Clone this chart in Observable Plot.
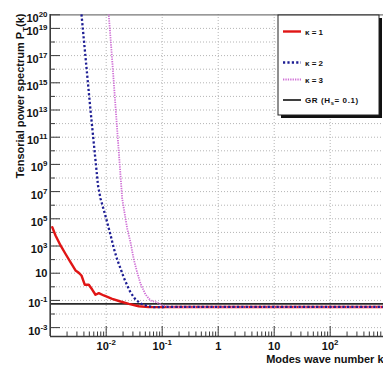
<!DOCTYPE html>
<html><head><meta charset="utf-8">
<script src="https://cdn.jsdelivr.net/npm/d3@7"></script>
<script src="https://cdn.jsdelivr.net/npm/@observablehq/plot@0.6"></script>
<style>
html,body{margin:0;padding:0;background:#fff;overflow:hidden;}
#chart{width:383px;height:369px;position:relative;overflow:hidden;}
</style></head><body><div id="chart"></div>
<script>
// ---- series (k, P_T(k)) ----
const seriesNames = ["κ = 1", "κ = 2", "κ = 3"];
const seriesColors = ["#e01515", "#1e1e94", "#d070d6"];
const grLabel = "GR (H_{s}= 0.1)";
const grValue = 0.056;

const k1 = [1.09e-3, 1.245e-3, 1.53e-3, 1.87e-3, 2.30e-3, 2.83e-3, 3.24e-3, 3.62e-3, 4.15e-3, 4.89e-3, 5.62e-3, 6.44e-3, 7.38e-3, 9.06e-3, 0.0128, 0.018, 0.0254, 0.0382, 0.0577, 0.076, 0.2, 1, 10, 100, 1000];
const p1 = [2.4e4, 5.9e3, 1.1e3, 270, 65, 16, 10.7, 6.8, 1.4, 1.4, 0.63, 0.26, 0.34, 0.23, 0.132, 0.083, 0.056, 0.037, 0.032, 0.032, 0.033, 0.033, 0.033, 0.033, 0.033];

const k2 = [3.44e-3, 3.62e-3, 5.25e-3, 7.14e-3, 7.91e-3, 9.44e-3, 0.01042, 0.01202, 0.01368, 0.0157, 0.018, 0.0206, 0.0237, 0.0272, 0.0333, 0.0409, 0.054, 0.07, 0.2, 1, 10, 100, 1000];
const p2 = [1e21, 1.05e20, 9.1e12, 2.8e7, 3.1e6, 2.45e5, 5.4e4, 5.9e3, 660, 102, 22.4, 4.8, 1.26, 0.38, 0.117, 0.060, 0.039, 0.032, 0.034, 0.034, 0.034, 0.034, 0.034];

const k3 = [0.0107, 0.0111, 0.0128, 0.01466, 0.0168, 0.0193, 0.0215, 0.0237, 0.0272, 0.0311, 0.0358, 0.0409, 0.0504, 0.0618, 0.0815, 0.1, 0.129, 0.3, 1, 10, 100, 1000];
const p3 = [1e21, 1.05e20, 4.4e16, 1.8e13, 7.6e9, 3.1e6, 2.1e5, 1.95e4, 1820, 102, 11.2, 1.74, 0.27, 0.098, 0.071, 0.043, 0.032, 0.032, 0.032, 0.032, 0.032, 0.032];

// ---- axes ----
const xDomain = [1e-3, 1e3];
const yDomain = [2.22e-4, 1e20];
const xTickValues = [1e-2, 1e-1, 1, 10, 100];
const xTickLabels = ["10^{-2}", "10^{-1}", "1", "10", "10^{2}"];
const yTickValues = [1e-3, 1e-1, 10, 1e3, 1e5, 1e7, 1e9, 1e11, 1e13, 1e15, 1e17, 1e19, 1e20];
const yTickLabels = ["10^{-3}", "10^{-1}", "10", "10^{3}", "10^{5}", "10^{7}", "10^{9}", "10^{11}", "10^{13}", "10^{15}", "10^{17}", "10^{19}", "10^{20}"];
const yShortTicks = [1e-2, 1, 1e2, 1e4, 1e6, 1e8, 1e10, 1e12, 1e14, 1e16, 1e18];
const yGrid = [1e-3, 1e-2, 1e-1, 1, 10, 1e2, 1e3, 1e4, 1e5, 1e6, 1e7, 1e8, 1e9, 1e10, 1e11, 1e12, 1e13, 1e14, 1e15, 1e16, 1e17, 1e18, 1e19];
const xGrid = [1e-2, 1e-1, 1, 10, 100];
const xTitle = "Modes wave number k";
const yTitle = "Tensorial power spectrum P_{T}(k)";

const xMinor = [];
for (const dec of [1e-3, 1e-2, 1e-1, 1, 10, 100]) for (let m = 2; m <= 9; m++) xMinor.push(m * dec);

const rows = (ks, ps) => ks.map((k, i) => ({k, p: ps[i]}));
const d1 = rows(k1, p1), d2 = rows(k2, p2), d3s = rows(k3, p3);

const F = "'Liberation Sans', Arial, Helvetica, sans-serif";
const axisColor = "#3a3a3a";

const svg = Plot.plot({
  width: 383, height: 369,
  marginLeft: 50, marginTop: 14, marginBottom: 33, marginRight: 0,
  x: {type: "log", domain: xDomain, range: [49.7, 385.7], axis: null},
  y: {type: "log", domain: yDomain, range: [336, 14.3], axis: null},
  marks: [
    Plot.ruleY(yGrid, {stroke: "#b4b4b4", strokeDasharray: "1,2", strokeWidth: 1}),
    Plot.ruleX(xGrid, {stroke: "#b4b4b4", strokeDasharray: "1,2", strokeWidth: 1}),
    Plot.ruleY([yDomain[1]], {stroke: "#777", strokeWidth: 1.2}),
    Plot.axisY(yTickValues, {anchor: "left", tickSize: 10, dx: 10, fill: "none", label: null, stroke: axisColor}),
    Plot.axisY(yShortTicks, {anchor: "left", tickSize: 5, dx: 5, fill: "none", label: null, stroke: axisColor}),
    Plot.axisX(xTickValues, {anchor: "bottom", tickSize: 10, dy: -10, fill: "none", label: null, stroke: axisColor}),
    Plot.axisX(xMinor, {anchor: "bottom", tickSize: 4.5, dy: -4.5, fill: "none", label: null, stroke: axisColor}),
    Plot.ruleY([grValue], {stroke: "#2a2a2a", strokeWidth: 1.8}),
    Plot.line(d1, {x: "k", y: "p", stroke: seriesColors[0], strokeWidth: 2.4, clip: true}),
    Plot.line(d3s, {x: "k", y: "p", stroke: seriesColors[2], strokeWidth: 1.8, strokeDasharray: "1.3,1.1", strokeLinecap: "butt", strokeLinejoin: "miter", clip: true}),
    Plot.line(d2, {x: "k", y: "p", stroke: seriesColors[1], strokeWidth: 2.3, strokeDasharray: "2.2,2.2", strokeLinecap: "butt", strokeLinejoin: "miter", clip: true}),
    Plot.ruleX([xDomain[0]], {stroke: axisColor, strokeWidth: 1.6}),
    Plot.ruleY([yDomain[0]], {stroke: axisColor, strokeWidth: 1.6}),
    Plot.text(yTickValues, {y: d => d, text: (d, i) => yTickLabels[i], filter: (d, i) => yTickLabels[i].includes("^"),
      frameAnchor: "left", textAnchor: "end", dx: -3, dy: 3.5, fontSize: 11, fontWeight: "bold", fontFamily: F, fill: "#111"}),
    Plot.text(yTickValues, {y: d => d, text: (d, i) => yTickLabels[i], filter: (d, i) => !yTickLabels[i].includes("^"),
      frameAnchor: "left", textAnchor: "end", dx: -3, dy: 0, fontSize: 11, fontWeight: "bold", fontFamily: F, fill: "#111"}),
    Plot.text(xTickValues, {x: d => d, text: (d, i) => xTickLabels[i], frameAnchor: "bottom", textAnchor: "middle", dy: 13,
      fontSize: 11, fontWeight: "bold", fontFamily: F, fill: "#111"}),
    Plot.text([xTitle], {frameAnchor: "bottom-right", textAnchor: "end", dx: 0, dy: 26.5, fontSize: 11, fontWeight: "bold", fontFamily: F, fill: "#111"}),
    Plot.text([yTitle], {frameAnchor: "top-left", rotate: -90, textAnchor: "end", dx: -34, dy: -1, fontSize: 11, fontWeight: "bold", fontFamily: F, fill: "#111"})
  ]
});

document.getElementById("chart").appendChild(svg);

// ---- legend ----
const lg = d3.select(svg).append("g").attr("font-family", F).attr("font-weight", "bold").attr("font-size", 8).attr("text-anchor", "start");
const LX = 278, LY = 15, LW = 101, LH = 100;
lg.append("rect").attr("x", LX + 3).attr("y", LY + 3).attr("width", LW).attr("height", LH).attr("fill", "#111");
lg.append("rect").attr("x", LX).attr("y", LY).attr("width", LW).attr("height", LH).attr("fill", "#fff").attr("stroke", "#222").attr("stroke-width", 1);
const entries = [
  {label: seriesNames[0], color: seriesColors[0], w: 2.4, dash: null, y: 31.5, ls: 0},
  {label: seriesNames[1], color: seriesColors[1], w: 2.3, dash: "2.2,2.2", y: 62.5, ls: 0},
  {label: seriesNames[2], color: seriesColors[2], w: 1.8, dash: "1.3,1.1", y: 79.5, ls: 0},
  {label: grLabel, color: "#2a2a2a", w: 1.8, dash: null, y: 100, ls: 0.6}
];
for (const e of entries) {
  const ln = lg.append("line").attr("x1", 283).attr("x2", 301).attr("y1", e.y).attr("y2", e.y)
    .attr("stroke", e.color).attr("stroke-width", e.w).attr("stroke-linecap", "butt");
  if (e.dash) ln.attr("stroke-dasharray", e.dash);
  lg.append("text").attr("x", 305).attr("y", e.y + 3).attr("fill", "#111").attr("text-anchor", "start")
    .attr("letter-spacing", e.ls).text(e.label);
}

// ---- super/subscript rendering for all texts ----
function richify(el) {
  const s = el.textContent;
  if (!/[\^_]\{/.test(s)) return;
  const fs = parseFloat(getComputedStyle(el).fontSize) || 11;
  const re = /([\^_])\{([^}]*)\}/g;
  const parts = [];
  let last = 0, m;
  while ((m = re.exec(s))) {
    if (m.index > last) parts.push({t: s.slice(last, m.index), k: ""});
    parts.push({t: m[2], k: m[1]});
    last = re.lastIndex;
  }
  if (last < s.length) parts.push({t: s.slice(last), k: ""});
  el.textContent = "";
  let cur = 0;
  for (const p of parts) {
    const ts = document.createElementNS("http://www.w3.org/2000/svg", "tspan");
    const target = p.k === "^" ? -0.45 * fs : p.k === "_" ? 0.3 * fs : 0;
    if (target !== cur) ts.setAttribute("dy", (target - cur).toFixed(2));
    cur = target;
    if (p.k) ts.setAttribute("font-size", (0.72 * fs).toFixed(2));
    ts.textContent = p.t;
    el.appendChild(ts);
  }
}
svg.querySelectorAll("text").forEach(richify);
</script>
</body></html>
